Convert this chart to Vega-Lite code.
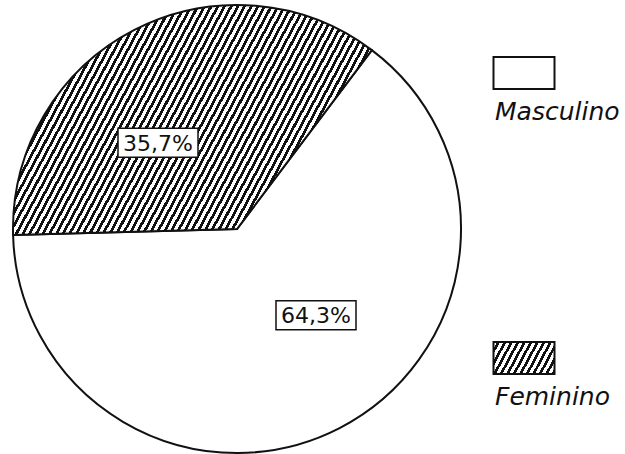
{
  "$schema": "https://vega.github.io/schema/vega-lite/v6.json",
  "padding": 0,
  "config": {"view": {"stroke": null}, "font": "DejaVu Sans"},
  "data": {"values": [
    {"sex": "Masculino", "value": 64.3, "label": "64,3%"},
    {"sex": "Feminino", "value": 35.7, "label": "35,7%"}
  ]},
  "spacing": 0,
  "hconcat": [
    {
      "width": 474,
      "height": 458,
      "layer": [
        {
          "mark": {"type": "arc", "radius": 224, "stroke": "#111", "strokeWidth": 2},
          "encoding": {
            "theta": {"field": "value", "type": "quantitative", "stack": true, "scale": {"range": [0.6458, 6.9290]}},
            "order": {"field": "value", "type": "quantitative", "sort": "descending"},
            "fill": {
              "condition": {"test": "datum.sex === 'Feminino'", "value": {"gradient": "linear", "x1": 0, "y1": 0, "x2": 1, "y2": 0.342, "stops": [
{"offset":0,"color":"#fff"},{"offset":0.009,"color":"#fff"},{"offset":0.009,"color":"#111"},{"offset":0.0167,"color":"#111"},
{"offset":0.0167,"color":"#fff"},{"offset":0.0257,"color":"#fff"},{"offset":0.0257,"color":"#111"},{"offset":0.0333,"color":"#111"},
{"offset":0.0333,"color":"#fff"},{"offset":0.0423,"color":"#fff"},{"offset":0.0423,"color":"#111"},{"offset":0.05,"color":"#111"},
{"offset":0.05,"color":"#fff"},{"offset":0.059,"color":"#fff"},{"offset":0.059,"color":"#111"},{"offset":0.0667,"color":"#111"},
{"offset":0.0667,"color":"#fff"},{"offset":0.0757,"color":"#fff"},{"offset":0.0757,"color":"#111"},{"offset":0.0833,"color":"#111"},
{"offset":0.0833,"color":"#fff"},{"offset":0.0923,"color":"#fff"},{"offset":0.0923,"color":"#111"},{"offset":0.1,"color":"#111"},
{"offset":0.1,"color":"#fff"},{"offset":0.109,"color":"#fff"},{"offset":0.109,"color":"#111"},{"offset":0.1167,"color":"#111"},
{"offset":0.1167,"color":"#fff"},{"offset":0.1257,"color":"#fff"},{"offset":0.1257,"color":"#111"},{"offset":0.1333,"color":"#111"},
{"offset":0.1333,"color":"#fff"},{"offset":0.1423,"color":"#fff"},{"offset":0.1423,"color":"#111"},{"offset":0.15,"color":"#111"},
{"offset":0.15,"color":"#fff"},{"offset":0.159,"color":"#fff"},{"offset":0.159,"color":"#111"},{"offset":0.1667,"color":"#111"},
{"offset":0.1667,"color":"#fff"},{"offset":0.1757,"color":"#fff"},{"offset":0.1757,"color":"#111"},{"offset":0.1833,"color":"#111"},
{"offset":0.1833,"color":"#fff"},{"offset":0.1923,"color":"#fff"},{"offset":0.1923,"color":"#111"},{"offset":0.2,"color":"#111"},
{"offset":0.2,"color":"#fff"},{"offset":0.209,"color":"#fff"},{"offset":0.209,"color":"#111"},{"offset":0.2167,"color":"#111"},
{"offset":0.2167,"color":"#fff"},{"offset":0.2257,"color":"#fff"},{"offset":0.2257,"color":"#111"},{"offset":0.2333,"color":"#111"},
{"offset":0.2333,"color":"#fff"},{"offset":0.2423,"color":"#fff"},{"offset":0.2423,"color":"#111"},{"offset":0.25,"color":"#111"},
{"offset":0.25,"color":"#fff"},{"offset":0.259,"color":"#fff"},{"offset":0.259,"color":"#111"},{"offset":0.2667,"color":"#111"},
{"offset":0.2667,"color":"#fff"},{"offset":0.2757,"color":"#fff"},{"offset":0.2757,"color":"#111"},{"offset":0.2833,"color":"#111"},
{"offset":0.2833,"color":"#fff"},{"offset":0.2923,"color":"#fff"},{"offset":0.2923,"color":"#111"},{"offset":0.3,"color":"#111"},
{"offset":0.3,"color":"#fff"},{"offset":0.309,"color":"#fff"},{"offset":0.309,"color":"#111"},{"offset":0.3167,"color":"#111"},
{"offset":0.3167,"color":"#fff"},{"offset":0.3257,"color":"#fff"},{"offset":0.3257,"color":"#111"},{"offset":0.3333,"color":"#111"},
{"offset":0.3333,"color":"#fff"},{"offset":0.3423,"color":"#fff"},{"offset":0.3423,"color":"#111"},{"offset":0.35,"color":"#111"},
{"offset":0.35,"color":"#fff"},{"offset":0.359,"color":"#fff"},{"offset":0.359,"color":"#111"},{"offset":0.3667,"color":"#111"},
{"offset":0.3667,"color":"#fff"},{"offset":0.3757,"color":"#fff"},{"offset":0.3757,"color":"#111"},{"offset":0.3833,"color":"#111"},
{"offset":0.3833,"color":"#fff"},{"offset":0.3923,"color":"#fff"},{"offset":0.3923,"color":"#111"},{"offset":0.4,"color":"#111"},
{"offset":0.4,"color":"#fff"},{"offset":0.409,"color":"#fff"},{"offset":0.409,"color":"#111"},{"offset":0.4167,"color":"#111"},
{"offset":0.4167,"color":"#fff"},{"offset":0.4257,"color":"#fff"},{"offset":0.4257,"color":"#111"},{"offset":0.4333,"color":"#111"},
{"offset":0.4333,"color":"#fff"},{"offset":0.4423,"color":"#fff"},{"offset":0.4423,"color":"#111"},{"offset":0.45,"color":"#111"},
{"offset":0.45,"color":"#fff"},{"offset":0.459,"color":"#fff"},{"offset":0.459,"color":"#111"},{"offset":0.4667,"color":"#111"},
{"offset":0.4667,"color":"#fff"},{"offset":0.4757,"color":"#fff"},{"offset":0.4757,"color":"#111"},{"offset":0.4833,"color":"#111"},
{"offset":0.4833,"color":"#fff"},{"offset":0.4923,"color":"#fff"},{"offset":0.4923,"color":"#111"},{"offset":0.5,"color":"#111"},
{"offset":0.5,"color":"#fff"},{"offset":0.509,"color":"#fff"},{"offset":0.509,"color":"#111"},{"offset":0.5167,"color":"#111"},
{"offset":0.5167,"color":"#fff"},{"offset":0.5257,"color":"#fff"},{"offset":0.5257,"color":"#111"},{"offset":0.5333,"color":"#111"},
{"offset":0.5333,"color":"#fff"},{"offset":0.5423,"color":"#fff"},{"offset":0.5423,"color":"#111"},{"offset":0.55,"color":"#111"},
{"offset":0.55,"color":"#fff"},{"offset":0.559,"color":"#fff"},{"offset":0.559,"color":"#111"},{"offset":0.5667,"color":"#111"},
{"offset":0.5667,"color":"#fff"},{"offset":0.5757,"color":"#fff"},{"offset":0.5757,"color":"#111"},{"offset":0.5833,"color":"#111"},
{"offset":0.5833,"color":"#fff"},{"offset":0.5923,"color":"#fff"},{"offset":0.5923,"color":"#111"},{"offset":0.6,"color":"#111"},
{"offset":0.6,"color":"#fff"},{"offset":0.609,"color":"#fff"},{"offset":0.609,"color":"#111"},{"offset":0.6167,"color":"#111"},
{"offset":0.6167,"color":"#fff"},{"offset":0.6257,"color":"#fff"},{"offset":0.6257,"color":"#111"},{"offset":0.6333,"color":"#111"},
{"offset":0.6333,"color":"#fff"},{"offset":0.6423,"color":"#fff"},{"offset":0.6423,"color":"#111"},{"offset":0.65,"color":"#111"},
{"offset":0.65,"color":"#fff"},{"offset":0.659,"color":"#fff"},{"offset":0.659,"color":"#111"},{"offset":0.6667,"color":"#111"},
{"offset":0.6667,"color":"#fff"},{"offset":0.6757,"color":"#fff"},{"offset":0.6757,"color":"#111"},{"offset":0.6833,"color":"#111"},
{"offset":0.6833,"color":"#fff"},{"offset":0.6923,"color":"#fff"},{"offset":0.6923,"color":"#111"},{"offset":0.7,"color":"#111"},
{"offset":0.7,"color":"#fff"},{"offset":0.709,"color":"#fff"},{"offset":0.709,"color":"#111"},{"offset":0.7167,"color":"#111"},
{"offset":0.7167,"color":"#fff"},{"offset":0.7257,"color":"#fff"},{"offset":0.7257,"color":"#111"},{"offset":0.7333,"color":"#111"},
{"offset":0.7333,"color":"#fff"},{"offset":0.7423,"color":"#fff"},{"offset":0.7423,"color":"#111"},{"offset":0.75,"color":"#111"},
{"offset":0.75,"color":"#fff"},{"offset":0.759,"color":"#fff"},{"offset":0.759,"color":"#111"},{"offset":0.7667,"color":"#111"},
{"offset":0.7667,"color":"#fff"},{"offset":0.7757,"color":"#fff"},{"offset":0.7757,"color":"#111"},{"offset":0.7833,"color":"#111"},
{"offset":0.7833,"color":"#fff"},{"offset":0.7923,"color":"#fff"},{"offset":0.7923,"color":"#111"},{"offset":0.8,"color":"#111"},
{"offset":0.8,"color":"#fff"},{"offset":0.809,"color":"#fff"},{"offset":0.809,"color":"#111"},{"offset":0.8167,"color":"#111"},
{"offset":0.8167,"color":"#fff"},{"offset":0.8257,"color":"#fff"},{"offset":0.8257,"color":"#111"},{"offset":0.8333,"color":"#111"},
{"offset":0.8333,"color":"#fff"},{"offset":0.8423,"color":"#fff"},{"offset":0.8423,"color":"#111"},{"offset":0.85,"color":"#111"},
{"offset":0.85,"color":"#fff"},{"offset":0.859,"color":"#fff"},{"offset":0.859,"color":"#111"},{"offset":0.8667,"color":"#111"},
{"offset":0.8667,"color":"#fff"},{"offset":0.8757,"color":"#fff"},{"offset":0.8757,"color":"#111"},{"offset":0.8833,"color":"#111"},
{"offset":0.8833,"color":"#fff"},{"offset":0.8923,"color":"#fff"},{"offset":0.8923,"color":"#111"},{"offset":0.9,"color":"#111"},
{"offset":0.9,"color":"#fff"},{"offset":0.909,"color":"#fff"},{"offset":0.909,"color":"#111"},{"offset":0.9167,"color":"#111"},
{"offset":0.9167,"color":"#fff"},{"offset":0.9257,"color":"#fff"},{"offset":0.9257,"color":"#111"},{"offset":0.9333,"color":"#111"},
{"offset":0.9333,"color":"#fff"},{"offset":0.9423,"color":"#fff"},{"offset":0.9423,"color":"#111"},{"offset":0.95,"color":"#111"},
{"offset":0.95,"color":"#fff"},{"offset":0.959,"color":"#fff"},{"offset":0.959,"color":"#111"},{"offset":0.9667,"color":"#111"},
{"offset":0.9667,"color":"#fff"},{"offset":0.9757,"color":"#fff"},{"offset":0.9757,"color":"#111"},{"offset":0.9833,"color":"#111"},
{"offset":0.9833,"color":"#fff"},{"offset":0.9923,"color":"#fff"},{"offset":0.9923,"color":"#111"},{"offset":1,"color":"#111"}
]}},
              "value": "#ffffff"
            }
          }
        },
        {
          "encoding": {
            "x": {"field": "sex", "type": "nominal", "sort": ["Feminino", "Masculino"], "scale": {"type": "point", "padding": 1.243}, "axis": null},
            "y": {"field": "sex", "type": "nominal", "sort": ["Feminino", "Masculino"], "scale": {"type": "point", "padding": 0.8275}, "axis": null}
          },
          "layer": [
            {
              "mark": {"type": "point", "shape": "M-1,-0.3625H1V0.3625H-1Z", "size": 6400, "filled": true, "fill": "#ffffff", "stroke": "#111", "strokeWidth": 1.5, "opacity": 1}
            },
            {
              "mark": {"type": "text", "fontSize": 22, "font": "DejaVu Sans", "color": "#111", "baseline": "middle", "align": "center", "dy": 1},
              "encoding": {"text": {"field": "label"}}
            }
          ]
        }
      ]
    },
    {
      "width": 100,
      "height": 431,
      "encoding": {
        "y": {"field": "sex", "type": "nominal", "sort": ["Masculino", "Feminino"], "scale": {"type": "point", "padding": 0.256}, "axis": null}
      },
      "layer": [
        {
          "mark": {"type": "point", "shape": "M-1,-0.525H1V0.525H-1Z", "size": 3721, "filled": true, "stroke": "#111", "strokeWidth": 2, "opacity": 1},
          "encoding": {
            "fill": {
              "condition": {"test": "datum.sex === 'Feminino'", "value": {"gradient": "linear", "x1": 0, "y1": 0, "x2": 1.187, "y2": 0.331, "stops": [
{"offset":0,"color":"#fff"},{"offset":0.045,"color":"#fff"},{"offset":0.045,"color":"#111"},{"offset":0.0833,"color":"#111"},
{"offset":0.0833,"color":"#fff"},{"offset":0.1283,"color":"#fff"},{"offset":0.1283,"color":"#111"},{"offset":0.1667,"color":"#111"},
{"offset":0.1667,"color":"#fff"},{"offset":0.2117,"color":"#fff"},{"offset":0.2117,"color":"#111"},{"offset":0.25,"color":"#111"},
{"offset":0.25,"color":"#fff"},{"offset":0.295,"color":"#fff"},{"offset":0.295,"color":"#111"},{"offset":0.3333,"color":"#111"},
{"offset":0.3333,"color":"#fff"},{"offset":0.3783,"color":"#fff"},{"offset":0.3783,"color":"#111"},{"offset":0.4167,"color":"#111"},
{"offset":0.4167,"color":"#fff"},{"offset":0.4617,"color":"#fff"},{"offset":0.4617,"color":"#111"},{"offset":0.5,"color":"#111"},
{"offset":0.5,"color":"#fff"},{"offset":0.545,"color":"#fff"},{"offset":0.545,"color":"#111"},{"offset":0.5833,"color":"#111"},
{"offset":0.5833,"color":"#fff"},{"offset":0.6283,"color":"#fff"},{"offset":0.6283,"color":"#111"},{"offset":0.6667,"color":"#111"},
{"offset":0.6667,"color":"#fff"},{"offset":0.7117,"color":"#fff"},{"offset":0.7117,"color":"#111"},{"offset":0.75,"color":"#111"},
{"offset":0.75,"color":"#fff"},{"offset":0.795,"color":"#fff"},{"offset":0.795,"color":"#111"},{"offset":0.8333,"color":"#111"},
{"offset":0.8333,"color":"#fff"},{"offset":0.8783,"color":"#fff"},{"offset":0.8783,"color":"#111"},{"offset":0.9167,"color":"#111"},
{"offset":0.9167,"color":"#fff"},{"offset":0.9617,"color":"#fff"},{"offset":0.9617,"color":"#111"},{"offset":1,"color":"#111"}
]}},
              "value": "#ffffff"
            }
          }
        },
        {
          "mark": {"type": "text", "fontSize": 25, "fontStyle": "italic", "font": "DejaVu Sans", "color": "#111", "align": "left", "baseline": "alphabetic", "dx": -29, "dy": 47},
          "encoding": {"text": {"field": "sex"}}
        }
      ]
    }
  ]
}
